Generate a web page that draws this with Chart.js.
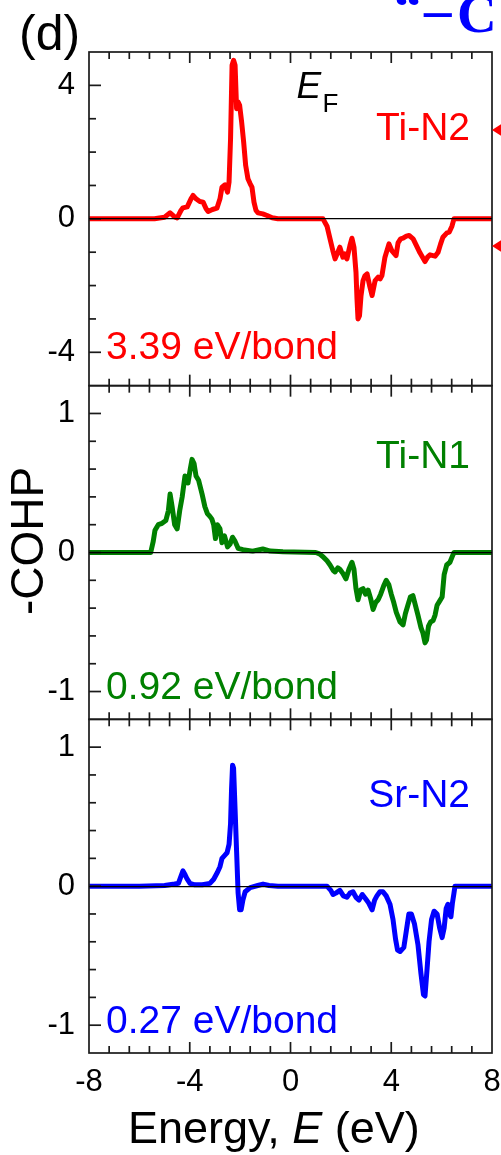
<!DOCTYPE html>
<html>
<head>
<meta charset="utf-8">
<script src="https://cdn.jsdelivr.net/npm/chart.js@4.4.1/dist/chart.umd.min.js"></script>
<style>
  html, body { margin: 0; padding: 0; background: #fff; }
  canvas { display: block; }
</style>
</head>
<body>
<canvas id="cohpChart" width="501" height="1155"></canvas>
<script>
// -COHP curves, energy in eV relative to E_F
const tiN2Energy = [-8, -5.4, -5.0, -4.78, -4.6, -4.5, -4.35, -4.27, -4.1, -3.95, -3.87, -3.75, -3.6, -3.47, -3.35, -3.27, -3.1, -2.92, -2.8, -2.72, -2.6, -2.5, -2.44, -2.38, -2.32, -2.26, -2.2, -2.14, -2.08, -2.02, -1.94, -1.86, -1.78, -1.69, -1.6, -1.53, -1.45, -1.37, -1.29, -1.1, -0.93, -0.73, -0.5,
  1.29, 1.45, 1.57, 1.68, 1.77, 1.88, 1.96, 2.08, 2.16, 2.24, 2.36, 2.44, 2.52, 2.6, 2.64, 2.68, 2.74, 2.8, 2.88, 2.96, 3.04, 3.14, 3.24, 3.36, 3.48, 3.56, 3.63, 3.75, 3.91, 4.02, 4.19, 4.27, 4.37, 4.47, 4.6, 4.71, 4.87, 5.0, 5.14, 5.34, 5.44, 5.54, 5.74, 5.86, 5.96, 6.05, 6.21, 6.3, 6.41, 6.49, 8];
const tiN2Cohp = [0, 0, 0.05, 0.18, 0.06, 0.03, 0.25, 0.33, 0.36, 0.6, 0.7, 0.6, 0.52, 0.5, 0.3, 0.22, 0.28, 0.32, 0.6, 0.95, 1.02, 0.8, 1.1, 2.4, 4.6, 4.75, 4.6, 3.3, 3.5, 3.4, 2.9, 2.3, 1.6, 1.2, 1.05, 0.95, 0.5, 0.25, 0.18, 0.15, 0.1, 0.03, 0,
  0, -0.22, -0.6, -0.95, -1.2, -1.0, -0.85, -1.15, -1.05, -1.2, -0.8, -0.58, -0.85, -1.6, -2.4, -3.0, -2.9, -2.3, -1.85, -1.7, -1.65, -2.0, -2.3, -1.85, -1.75, -1.8, -1.7, -1.15, -0.75, -0.95, -1.1, -0.72, -0.6, -0.58, -0.52, -0.5, -0.6, -0.8, -1.02, -1.28, -1.15, -1.08, -1.12, -1.0, -0.75, -0.55, -0.42, -0.4, -0.22, 0, 0];

const tiN1Energy = [-8, -5.55, -5.45, -5.38, -5.25, -5.1, -4.95, -4.85, -4.78, -4.7, -4.6, -4.5, -4.4, -4.3, -4.19, -4.07, -3.98, -3.91, -3.83, -3.75, -3.65, -3.51, -3.4, -3.3, -3.2, -3.12, -3.05, -2.98, -2.9, -2.8, -2.72, -2.62, -2.5, -2.4, -2.3, -2.2, -2.08, -1.89, -1.5, -1.1, -0.8, -0.3,
  1.0, 1.15, 1.29, 1.45, 1.57, 1.7, 1.77, 1.88, 1.96, 2.08, 2.2, 2.32, 2.44, 2.52, 2.6, 2.68, 2.78, 2.88, 2.98, 3.08, 3.18, 3.28, 3.38, 3.48, 3.58, 3.7, 3.8, 3.9, 4.0, 4.1, 4.2, 4.35, 4.47, 4.56, 4.66, 4.76, 4.86, 4.96, 5.06, 5.18, 5.26, 5.34, 5.4, 5.48, 5.56, 5.66, 5.74, 5.82, 5.92, 6.02, 6.1, 6.2, 6.33, 6.42, 6.49, 8];
const tiN1Cohp = [0, 0, 0.08, 0.16, 0.2, 0.21, 0.23, 0.3, 0.42, 0.33, 0.2, 0.17, 0.3, 0.4, 0.55, 0.5, 0.6, 0.67, 0.64, 0.55, 0.52, 0.42, 0.33, 0.28, 0.26, 0.24, 0.2, 0.1, 0.2, 0.17, 0.07, 0.12, 0.04, 0.06, 0.11, 0.08, 0.03, 0.02, 0.01, 0.025, 0.01, 0.005,
  0, -0.01, -0.03, -0.06, -0.09, -0.13, -0.14, -0.11, -0.12, -0.15, -0.19, -0.12, -0.07, -0.12, -0.26, -0.34, -0.27, -0.26, -0.3, -0.27, -0.33, -0.41, -0.36, -0.34, -0.3, -0.24, -0.2, -0.23, -0.3, -0.36, -0.43, -0.5, -0.52, -0.44, -0.38, -0.32, -0.31, -0.38, -0.45, -0.54, -0.58, -0.65, -0.63, -0.53, -0.5, -0.49, -0.45, -0.38, -0.35, -0.32, -0.16, -0.09, -0.07, -0.03, 0, 0];

const srN2Energy = [-8, -6.0, -5.0, -4.6, -4.45, -4.35, -4.27, -4.18, -4.1, -3.99, -3.8, -3.5, -3.2, -3.05, -2.9, -2.8, -2.72, -2.62, -2.52, -2.44, -2.38, -2.34, -2.3, -2.26, -2.2, -2.14, -2.08, -2.02, -1.96, -1.89, -1.8, -1.6, -1.3, -1.09, -0.85, -0.5,
  1.45, 1.6, 1.69, 1.8, 1.96, 2.1, 2.24, 2.36, 2.48, 2.6, 2.72, 2.85, 2.98, 3.1, 3.24, 3.34, 3.43, 3.55, 3.67, 3.8, 3.95, 4.07, 4.17, 4.25, 4.35, 4.5, 4.6, 4.7, 4.8, 4.92, 5.06, 5.18, 5.28, 5.34, 5.42, 5.5, 5.6, 5.7, 5.82, 5.92, 6.02, 6.1, 6.18, 6.25, 6.31, 6.37, 6.43, 6.49, 6.53, 8];
const srN2Cohp = [0, 0, 0.005, 0.015, 0.02, 0.07, 0.11, 0.08, 0.05, 0.02, 0.01, 0.01, 0.02, 0.05, 0.1, 0.14, 0.2, 0.22, 0.24, 0.3, 0.45, 0.7, 0.87, 0.85, 0.55, 0.25, -0.05, -0.17, -0.17, -0.1, -0.04, -0.01, 0.005, 0.015, 0.005, 0,
  0, -0.03, -0.06, -0.05, -0.03, -0.07, -0.08, -0.05, -0.04, -0.08, -0.1, -0.06, -0.09, -0.12, -0.17, -0.1, -0.07, -0.04, -0.04, -0.07, -0.13, -0.24, -0.38, -0.46, -0.47, -0.44, -0.32, -0.2, -0.2, -0.27, -0.42, -0.63, -0.78, -0.79, -0.6, -0.4, -0.24, -0.18, -0.2, -0.3, -0.37, -0.3, -0.16, -0.13, -0.2, -0.22, -0.12, -0.05, 0, 0];

const bondNames = ['Ti-N2', 'Ti-N1', 'Sr-N2'];
const bondEnergies = ['3.39 eV/bond', '0.92 eV/bond', '0.27 eV/bond'];
const bondColors = ['#ff0000', '#008000', '#0000ff'];

const energyTicks = [-8, -4, 0, 4, 8];
const tiN2Ticks = [-4, 0, 4];
const smallTicks = [-1, 0, 1];

const FONT = "'Liberation Sans', Arial, sans-serif";
Chart.defaults.font.family = FONT;
Chart.defaults.color = '#000';

const points = (xs, ys) => xs.map((x, i) => ({ x: x, y: ys[i] }));

const panelIds = ['yTop', 'yMid', 'yBot'];
const panelMinor = { yTop: 1, yMid: 0.2, yBot: 0.2 };
const panelMajor = { yTop: 4, yMid: 1, yBot: 1 };
// name baseline below panel top, bond-energy baseline above panel bottom
const nameDrop = [88, 82, 88];
const energyRise = [27, 20, 20];

function seg(ctx, x1, y1, x2, y2) {
  ctx.beginPath();
  ctx.moveTo(x1, y1);
  ctx.lineTo(x2, y2);
  ctx.stroke();
}

// frames with inward ticks around each panel, plus the free text
const panelDecor = {
  id: 'panelDecor',
  afterDatasetsDraw(chart) {
    const { ctx, chartArea: area, scales } = chart;
    const xs = scales.x;
    ctx.save();
    ctx.strokeStyle = '#1a1a1a';
    ctx.lineWidth = 1.7;
    panelIds.forEach(id => {
      const ys = scales[id];
      ctx.strokeRect(area.left, ys.top, area.right - area.left, ys.bottom - ys.top);
      for (let i = 1; i < 20; i++) {
        const px = xs.getPixelForValue(-8 + 0.8 * i);
        const len = i % 5 === 0 ? 11 : 7;
        seg(ctx, px, ys.top, px, ys.top + len);
        seg(ctx, px, ys.bottom, px, ys.bottom - len);
      }
      const minor = panelMinor[id];
      const major = panelMajor[id];
      const n = Math.round((ys.max - ys.min) / minor);
      for (let i = 1; i < n; i++) {
        const v = ys.min + minor * i;
        const isMajor = Math.abs(v / major - Math.round(v / major)) < 1e-6;
        const py = ys.getPixelForValue(v);
        seg(ctx, area.left, py, area.left + (isMajor ? 12 : 7), py);
      }
    });
    ctx.restore();
  },
  afterDraw(chart) {
    const { ctx, chartArea: area, scales } = chart;
    const x0 = scales.x.getPixelForValue(0);
    ctx.save();
    ctx.textBaseline = 'alphabetic';

    ctx.fillStyle = '#000';
    ctx.textAlign = 'left';
    ctx.font = '50px ' + FONT;
    ctx.fillText('(d)', 19, 50);

    ctx.font = 'italic 37px ' + FONT;
    ctx.fillText('E', x0 + 6, 98);
    ctx.font = '26px ' + FONT;
    ctx.fillText('F', x0 + 32, 112);

    ctx.font = '45px ' + FONT;
    let tx = 128;
    ctx.fillText('Energy, ', tx, 1143);
    tx += ctx.measureText('Energy, ').width;
    ctx.font = 'italic 45px ' + FONT;
    ctx.fillText('E', tx, 1143);
    tx += ctx.measureText('E').width;
    ctx.font = '45px ' + FONT;
    ctx.fillText(' (eV)', tx, 1143);

    ctx.save();
    ctx.translate(43, 541);
    ctx.rotate(-Math.PI / 2);
    ctx.textAlign = 'center';
    ctx.font = '46px ' + FONT;
    ctx.fillText('-COHP', 0, 0);
    ctx.restore();

    panelIds.forEach((id, k) => {
      const ys = scales[id];
      ctx.fillStyle = bondColors[k];
      ctx.font = '39px ' + FONT;
      ctx.textAlign = 'right';
      ctx.fillText(bondNames[k], area.right - 22, ys.top + nameDrop[k]);
      ctx.textAlign = 'left';
      ctx.fillText(bondEnergies[k], area.left + 17, ys.bottom - energyRise[k]);
    });

    // neighbouring panel spill-over at the right edge
    ctx.fillStyle = '#0000ff';
    ctx.textAlign = 'left';
    ctx.font = "bold 55px 'Liberation Serif', serif";
    ctx.fillText('\u201C', 394, 25);
    ctx.fillText('\u2013', 424, 28);
    ctx.fillText('C', 457, 32);

    ctx.fillStyle = '#ff0000';
    [130, 246].forEach(cy => {
      ctx.beginPath();
      ctx.moveTo(492, cy);
      ctx.lineTo(503, cy - 7);
      ctx.lineTo(503, cy + 7);
      ctx.closePath();
      ctx.fill();
    });
    ctx.restore();
  }
};

function panelAxis(min, max, tickValues, weight) {
  return {
    type: 'linear',
    position: 'left',
    stack: 'cohp',
    stackWeight: 1,
    weight: weight,
    min: min,
    max: max,
    afterBuildTicks: s => { s.ticks = tickValues.map(v => ({ value: v })); },
    afterFit: s => { s.width = 89; },
    ticks: { font: { size: 31 }, padding: 14, color: '#000' },
    grid: {
      z: 1,
      drawTicks: false,
      lineWidth: 1.2,
      color: c => (c.tick && c.tick.value === 0 ? '#000' : 'rgba(0,0,0,0)')
    },
    border: { display: false }
  };
}

function curve(xs, ys, k, axis) {
  return {
    data: points(xs, ys),
    yAxisID: axis,
    borderColor: bondColors[k],
    borderWidth: 5,
    borderJoinStyle: 'round',
    borderCapStyle: 'round',
    pointRadius: 0,
    tension: 0,
    fill: false
  };
}

new Chart(document.getElementById('cohpChart').getContext('2d'), {
  type: 'line',
  data: {
    datasets: [
      curve(tiN2Energy, tiN2Cohp, 0, 'yTop'),
      curve(tiN1Energy, tiN1Cohp, 1, 'yMid'),
      curve(srN2Energy, srN2Cohp, 2, 'yBot')
    ]
  },
  options: {
    responsive: false,
    animation: false,
    layout: { padding: { top: 52, right: 9, left: 0, bottom: 0 } },
    plugins: { legend: { display: false }, tooltip: { enabled: false } },
    scales: {
      x: {
        type: 'linear',
        min: -8,
        max: 8,
        afterBuildTicks: s => { s.ticks = energyTicks.map(v => ({ value: v })); },
        afterFit: s => {
          s.height = 102;
          s.paddingLeft = 0;
          s.paddingRight = 0;
        },
        ticks: { font: { size: 31 }, padding: 11, color: '#000', maxRotation: 0, autoSkip: false },
        grid: { display: false, drawTicks: false },
        border: { display: false }
      },
      yTop: panelAxis(-5, 5, tiN2Ticks, 3),
      yMid: panelAxis(-1.2, 1.2, smallTicks, 2),
      yBot: panelAxis(-1.2, 1.2, smallTicks, 1)
    }
  },
  plugins: [panelDecor]
});
</script>
</body>
</html>
